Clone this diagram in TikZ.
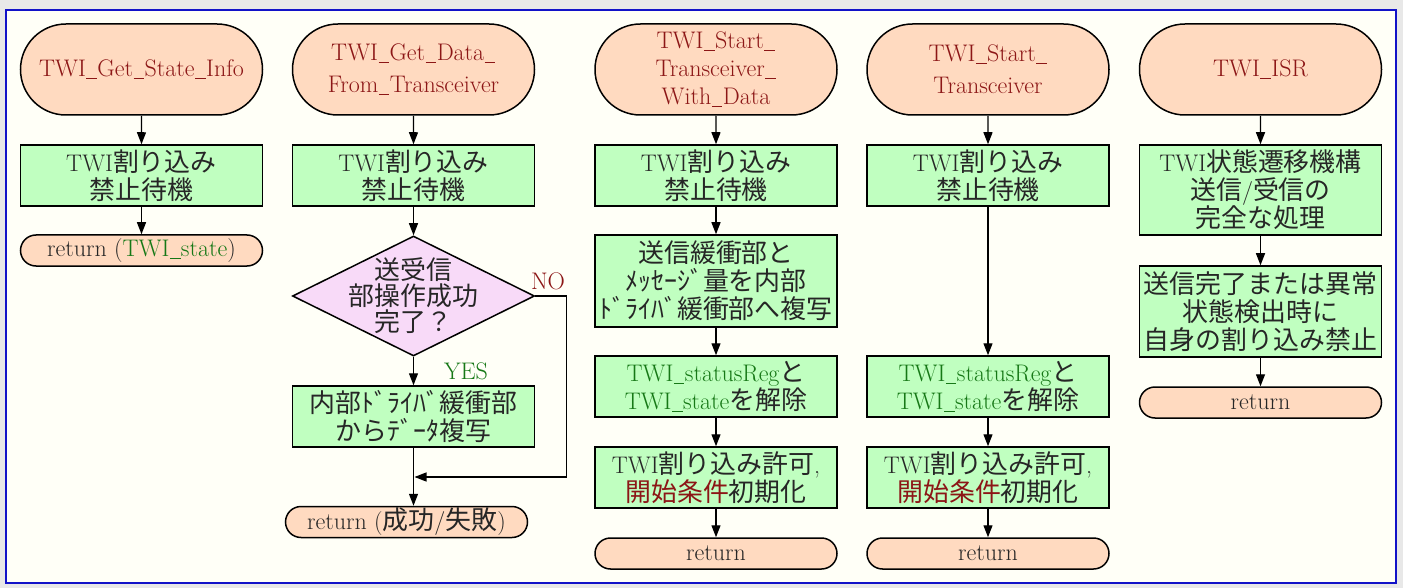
\documentclass[tikz,border=0pt]{standalone}
\usepackage{fontspec}
\setmainfont{Latin Modern Roman}
\newfontfamily\jp[Scale=1.08]{Noto Sans CJK JP}
\usetikzlibrary{shapes.misc,shapes.geometric,arrows.meta}
\newcommand\J[1]{{\jp #1}}
\newcommand\U{\kern0.02em\rule[-0.09em]{0.44em}{0.045em}\kern0.02em}
\definecolor{peach}{RGB}{255,218,192}
\definecolor{lgreen}{RGB}{192,255,192}
\definecolor{lpink}{RGB}{248,218,248}
\definecolor{dred}{RGB}{140,22,22}
\definecolor{dgreen}{RGB}{22,120,22}
\definecolor{bgcol}{RGB}{255,255,247}
\definecolor{outercol}{RGB}{232,232,232}
\definecolor{framecol}{RGB}{18,18,200}
\begin{document}
\begin{tikzpicture}[x=1pt,y=-1pt,
  base/.style={draw=black, line width=1.5pt, inner sep=0pt, align=center,
    font=\fontsize{24}{28}\selectfont, text=black!85},
  term/.style={base, rounded rectangle, fill=peach, minimum width=242pt,
    minimum height=91pt, text=dred},
  ret/.style={base, rounded rectangle, fill=peach, minimum width=242pt,
    minimum height=31pt},
  proc/.style={base, rectangle, fill=lgreen, minimum width=242pt},
  dec/.style={base, diamond, fill=lpink, minimum width=242pt, minimum height=120pt},
  lab/.style={inner sep=0pt, font=\fontsize{24}{26}\selectfont},
  arr/.style={line width=1.3pt, -{Triangle[length=12pt,width=9pt]}},
  ln/.style={line width=1.3pt}]
\fill[outercol] (0,0) rectangle (1403,588);
\useasboundingbox (0,0) rectangle (1403,588);
\draw[framecol, line width=2pt, fill=bgcol] (6,10) rectangle (1396,583);

% column 1
\node[term] (t1) at (141.5,69.5) {TWI\U Get\U State\U Info};
\node[proc, minimum height=61pt] (p11) at (141.5,175.5) {TWI\J{割り込み}\\\J{禁止待機}};
\node[ret] (r1) at (141.5,250.5) {return (\textcolor{dgreen}{TWI\U state})};
\draw[arr] (t1) -- (p11);
\draw[arr] (p11) -- (r1);

% column 2
\node[term, font=\fontsize{24}{32}\selectfont] (t2) at (413.5,69.5) {TWI\U Get\U Data\U\\From\U Transceiver};
\node[proc, minimum height=61pt] (p21) at (413.5,175.5) {TWI\J{割り込み}\\\J{禁止待機}};
\node[dec, label={[lab, align=center, text=black!85]center:{\J{送受信}\\\J{部操作成功}\\\J{完了？}}}] (d2) at (413.5,296) {};
\node[lab, text=dred] (no) at (548,281) {NO};
\node[lab, text=dgreen] (yes) at (466,371) {YES};
\node[proc, minimum height=61pt] (p22) at (413.5,416.5) {\J{内部ﾄﾞﾗｲﾊﾞ緩衝部}\\\J{からﾃﾞｰﾀ複写}};
\node[ret] (r2) at (406.5,522) {return (\J{成功}/\J{失敗})};
\coordinate (m2) at (414.5,477);
\draw[arr] (t2) -- (p21);
\draw[arr] (p21) -- (d2);
\draw[arr] (d2.south) -- (p22.north);
\draw[arr] (p22.south) -- (p22.south |- r2.north);
\draw[arr] (d2.east) -- ++(31,0) |- (m2);

% column 3
\node[term] (t3) at (716,69.5) {TWI\U Start\U\\Transceiver\U\\With\U Data};
\node[proc, minimum height=61pt] (p31) at (716,175.5) {TWI\J{割り込み}\\\J{禁止待機}};
\node[proc, minimum height=92pt] (p32) at (716,281) {\J{送信緩衝部と}\\\J{ﾒｯｾｰｼﾞ量を内部}\\\J{ﾄﾞﾗｲﾊﾞ緩衝部へ複写}};
\node[proc, minimum height=61pt] (p33) at (716,386.5) {\textcolor{dgreen}{TWI\U statusReg}\J{と}\\\textcolor{dgreen}{TWI\U state}\J{を解除}};
\node[proc, minimum height=61pt] (p34) at (716,477.5) {TWI\J{割り込み許可},\\\textcolor{dred}{\J{開始条件}}\J{初期化}};
\node[ret] (r3) at (716,553.5) {return};
\draw[arr] (t3) -- (p31);
\draw[arr] (p31) -- (p32);
\draw[arr] (p32) -- (p33);
\draw[arr] (p33) -- (p34);
\draw[arr] (p34) -- (r3);

% column 4
\node[term, font=\fontsize{24}{32}\selectfont] (t4) at (988,69.5) {TWI\U Start\U\\Transceiver};
\node[proc, minimum height=61pt] (p41) at (988,175.5) {TWI\J{割り込み}\\\J{禁止待機}};
\node[proc, minimum height=61pt] (p43) at (988,386.5) {\textcolor{dgreen}{TWI\U statusReg}\J{と}\\\textcolor{dgreen}{TWI\U state}\J{を解除}};
\node[proc, minimum height=61pt] (p44) at (988,477.5) {TWI\J{割り込み許可},\\\textcolor{dred}{\J{開始条件}}\J{初期化}};
\node[ret] (r4) at (988,553.5) {return};
\draw[arr] (t4) -- (p41);
\draw[arr] (p41) -- (p43);
\draw[arr] (p43) -- (p44);
\draw[arr] (p44) -- (r4);

% column 5
\node[term] (t5) at (1260.5,69.5) {TWI\U ISR};
\node[proc, minimum height=90pt] (p51) at (1260.5,190) {TWI\J{状態遷移機構}\\\J{送信}/\J{受信の}\\\J{完全な処理}};
\node[proc, minimum height=91pt] (p52) at (1260.5,311.5) {\J{送信完了または異常}\\\J{状態検出時に}\\\J{自身の割り込み禁止}};
\node[ret] (r5) at (1260.5,402.5) {return};
\draw[arr] (t5) -- (p51);
\draw[arr] (p51) -- (p52);
\draw[arr] (p52) -- (r5);
\end{tikzpicture}
\end{document}
